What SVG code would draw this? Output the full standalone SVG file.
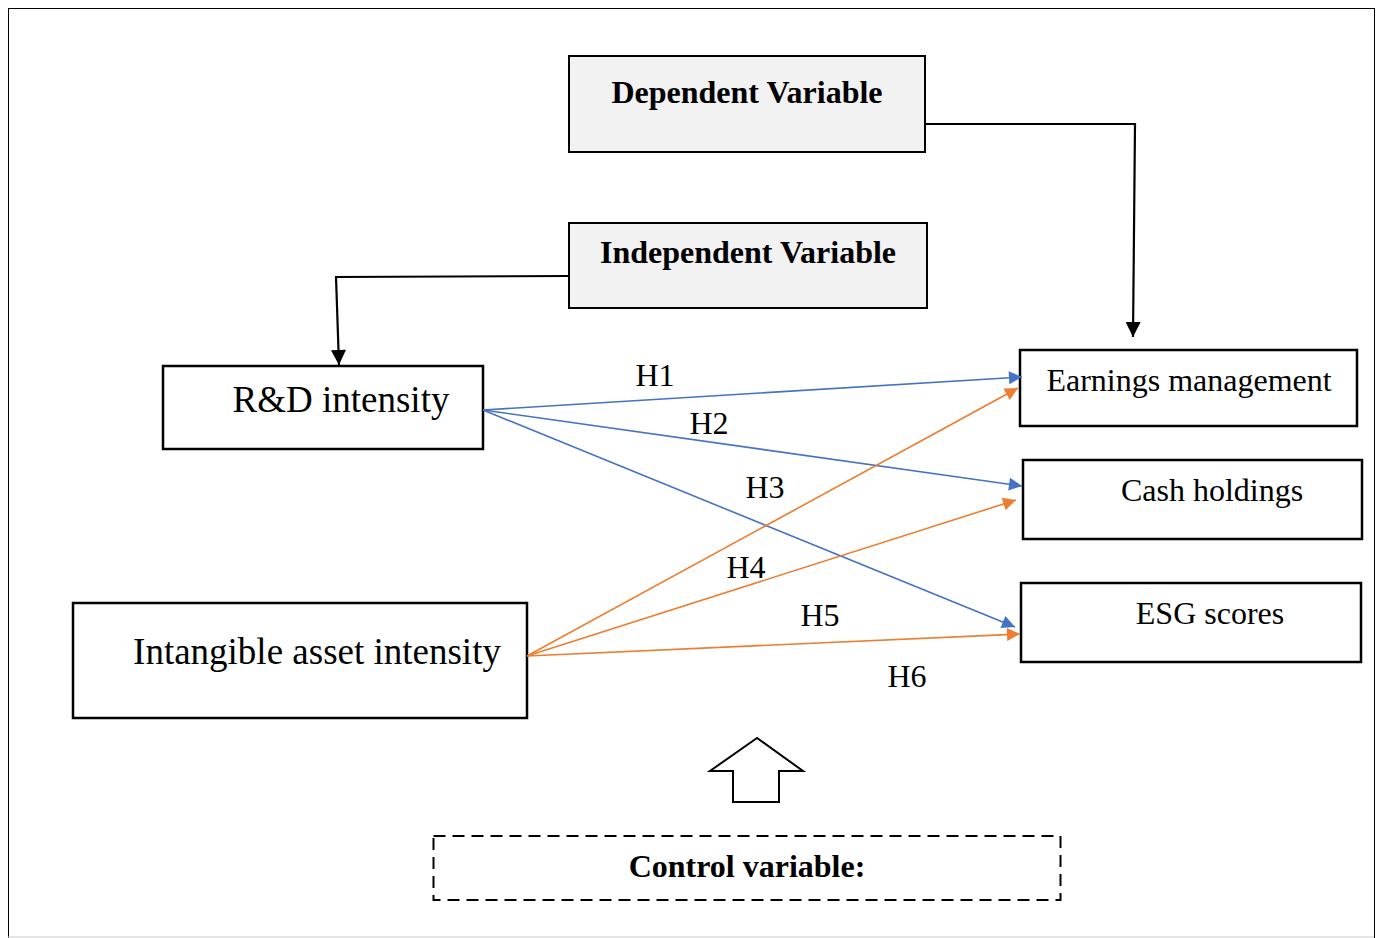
<svg xmlns="http://www.w3.org/2000/svg" width="1380" height="938" viewBox="0 0 1380 938">
<defs>
<style>
.box{fill:#fff;stroke:#000;stroke-width:2.5}
.gbox{fill:#f2f2f2;stroke:#000;stroke-width:2}
.t{font-family:"Liberation Serif","Times New Roman",serif;fill:#000}
.b{font-weight:bold;font-size:32px}
.n{font-size:37px}
.h{font-size:32px}
.blue{stroke:#4472c4;stroke-width:1.6;fill:none}
.orange{stroke:#ed7d31;stroke-width:1.6;fill:none}
.blk{stroke:#000;stroke-width:2.2;fill:none}
</style>
<marker id="mb" viewBox="0 0 10 10" refX="10" refY="5" markerWidth="15" markerHeight="13" markerUnits="userSpaceOnUse" orient="auto"><path d="M0,0L10,5L0,10z" fill="#4472c4"/></marker>
<marker id="mo" viewBox="0 0 10 10" refX="10" refY="5" markerWidth="15" markerHeight="13" markerUnits="userSpaceOnUse" orient="auto"><path d="M0,0L10,5L0,10z" fill="#ed7d31"/></marker>
<marker id="mk" viewBox="0 0 10 10" refX="10" refY="5" markerWidth="16" markerHeight="15" markerUnits="userSpaceOnUse" orient="auto"><path d="M0,0L10,5L0,10z" fill="#000"/></marker>
</defs>
<rect x="0" y="0" width="1380" height="938" fill="#fff"/>
<rect x="8.5" y="8.5" width="1366" height="940" fill="none" stroke="#000" stroke-width="1"/>
<line x1="8" y1="937" x2="1374" y2="937" stroke="#ccc" stroke-width="1"/>

<g id="dependent"><rect class="gbox" x="569" y="56" width="356" height="96"/><text class="t b" x="747" y="103" text-anchor="middle">Dependent Variable</text></g>
<g id="independent"><rect class="gbox" x="569" y="223" width="358" height="85"/><text class="t b" x="748" y="263" text-anchor="middle">Independent Variable</text></g>
<g id="rd"><rect class="box" x="163" y="366" width="320" height="83"/><text class="t n" x="341" y="412" text-anchor="middle">R&amp;D intensity</text></g>
<g id="intangible"><rect class="box" x="73" y="603" width="454" height="115"/><text class="t n" x="317" y="664" text-anchor="middle">Intangible asset intensity</text></g>
<g id="earnings"><rect class="box" x="1020" y="350" width="337" height="76"/><text class="t h" x="1189" y="391" text-anchor="middle">Earnings management</text></g>
<g id="cash"><rect class="box" x="1023" y="460" width="339" height="79"/><text class="t h" x="1212" y="501" text-anchor="middle">Cash holdings</text></g>
<g id="esg"><rect class="box" x="1021" y="583" width="340" height="79"/><text class="t h" x="1210" y="624" text-anchor="middle">ESG scores</text></g>
<g id="control"><rect x="433.5" y="836" width="627" height="64" fill="#fff" stroke="#000" stroke-width="2" stroke-dasharray="12,7"/><text class="t b" x="747" y="877" text-anchor="middle">Control variable:</text></g>
<g id="blockarrow"><path d="M757,738L710,771L733,771L733,802L779,802L779,771L803,771Z" fill="#fff" stroke="#000" stroke-width="2"/></g>

<g id="connectors">
<path class="blk" d="M925,124L1135,124L1133,337" marker-end="url(#mk)"/>
<path class="blk" d="M569,276L336,277L339,365" marker-end="url(#mk)"/>
<line class="blue" x1="483" y1="410" x2="1022" y2="377" marker-end="url(#mb)"/>
<line class="blue" x1="483" y1="410" x2="1022" y2="486" marker-end="url(#mb)"/>
<line class="blue" x1="483" y1="410" x2="1015" y2="627" marker-end="url(#mb)"/>
<line class="orange" x1="527" y1="656" x2="1018" y2="388" marker-end="url(#mo)"/>
<line class="orange" x1="527" y1="656" x2="1016" y2="500" marker-end="url(#mo)"/>
<line class="orange" x1="527" y1="656" x2="1020" y2="634" marker-end="url(#mo)"/>
</g>
<g id="labels">
<text class="t h" x="655" y="386" text-anchor="middle">H1</text>
<text class="t h" x="709" y="434" text-anchor="middle">H2</text>
<text class="t h" x="765" y="498" text-anchor="middle">H3</text>
<text class="t h" x="746" y="578" text-anchor="middle">H4</text>
<text class="t h" x="820" y="626" text-anchor="middle">H5</text>
<text class="t h" x="907" y="687" text-anchor="middle">H6</text>
</g>
</svg>
